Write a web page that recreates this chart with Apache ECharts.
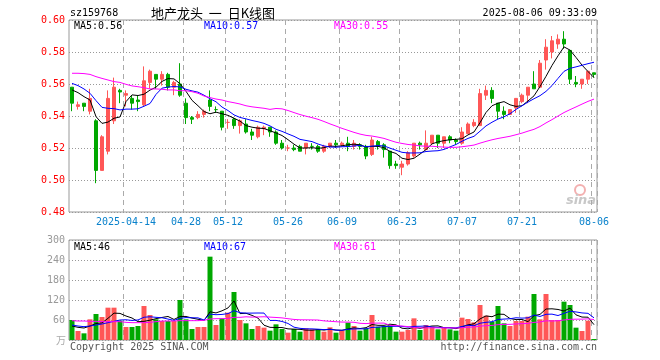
<!DOCTYPE html>
<html><head><meta charset="utf-8">
<script src="https://cdn.jsdelivr.net/npm/echarts@6/dist/echarts.min.js"></script>
<style>html,body{margin:0;padding:0;background:#fff}#c{width:660px;height:360px}</style>
</head><body><div id="c"></div>
<script>
const dates = ['2025-03-31','2025-04-01','2025-04-02','2025-04-03','2025-04-07','2025-04-08','2025-04-09','2025-04-10','2025-04-11',
'2025-04-14','2025-04-15','2025-04-16','2025-04-17','2025-04-18','2025-04-21','2025-04-22','2025-04-23','2025-04-24','2025-04-25',
'2025-04-28','2025-04-29','2025-04-30','2025-05-06','2025-05-07','2025-05-08','2025-05-09',
'2025-05-12','2025-05-13','2025-05-14','2025-05-15','2025-05-16','2025-05-19','2025-05-20','2025-05-21','2025-05-22','2025-05-23',
'2025-05-26','2025-05-27','2025-05-28','2025-05-29','2025-05-30','2025-06-03','2025-06-04','2025-06-05','2025-06-06',
'2025-06-09','2025-06-10','2025-06-11','2025-06-12','2025-06-13','2025-06-16','2025-06-17','2025-06-18','2025-06-19','2025-06-20',
'2025-06-23','2025-06-24','2025-06-25','2025-06-26','2025-06-27','2025-06-30','2025-07-01','2025-07-02','2025-07-03','2025-07-04',
'2025-07-07','2025-07-08','2025-07-09','2025-07-10','2025-07-11','2025-07-14','2025-07-15','2025-07-16','2025-07-17','2025-07-18',
'2025-07-21','2025-07-22','2025-07-23','2025-07-24','2025-07-25','2025-07-28','2025-07-29','2025-07-30','2025-07-31','2025-08-01',
'2025-08-04','2025-08-05','2025-08-06'];

const opens  = [0.558,0.546,0.548,0.543,0.537,0.506,0.518,0.537,0.556,0.553,0.551,0.550,0.547,0.561,0.566,0.563,0.566,0.558,0.560,0.548,
0.539,0.539,0.541,0.550,0.544,0.543,0.536,0.538,0.534,0.535,0.530,0.527,0.532,0.533,0.530,0.523,0.520,0.520,0.521,0.520,
0.521,0.521,0.518,0.521,0.523,0.522,0.523,0.521,0.522,0.521,0.516,0.524,0.522,0.518,0.510,0.508,0.510,0.515,0.523,0.519,
0.523,0.528,0.523,0.527,0.525,0.523,0.529,0.534,0.534,0.553,0.556,0.548,0.543,0.541,0.545,0.549,0.553,0.560,0.558,0.575,
0.580,0.585,0.588,0.581,0.561,0.560,0.563,0.567];
const closes = [0.548,0.547,0.546,0.551,0.506,0.527,0.551,0.558,0.555,0.554,0.548,0.549,0.562,0.568,0.563,0.566,0.558,0.561,0.553,0.539,
0.538,0.541,0.543,0.546,0.544,0.533,0.536,0.534,0.537,0.530,0.528,0.533,0.533,0.530,0.523,0.520,0.520,0.519,0.518,0.523,
0.521,0.518,0.521,0.523,0.522,0.523,0.521,0.523,0.521,0.515,0.525,0.521,0.519,0.509,0.509,0.510,0.517,0.523,0.522,0.523,
0.528,0.523,0.527,0.525,0.524,0.530,0.535,0.536,0.554,0.556,0.551,0.543,0.541,0.544,0.551,0.553,0.558,0.557,0.573,0.583,
0.587,0.588,0.585,0.563,0.560,0.563,0.568,0.566];
const lows   = [0.543,0.544,0.543,0.541,0.498,0.506,0.516,0.535,0.548,0.546,0.544,0.543,0.546,0.557,0.557,0.559,0.556,0.553,0.552,0.535,
0.535,0.538,0.539,0.543,0.542,0.531,0.532,0.532,0.529,0.529,0.525,0.526,0.528,0.527,0.522,0.519,0.518,0.518,0.518,0.516,
0.519,0.517,0.517,0.520,0.520,0.521,0.518,0.519,0.519,0.513,0.515,0.519,0.514,0.507,0.507,0.503,0.509,0.514,0.519,0.519,
0.522,0.520,0.520,0.523,0.522,0.522,0.529,0.533,0.534,0.550,0.548,0.538,0.538,0.541,0.542,0.548,0.548,0.557,0.558,0.569,
0.576,0.582,0.582,0.560,0.558,0.557,0.560,0.564];
const highs  = [0.558,0.549,0.548,0.557,0.538,0.528,0.556,0.564,0.557,0.556,0.553,0.553,0.571,0.569,0.566,0.568,0.567,0.562,0.573,0.551,
0.540,0.543,0.544,0.556,0.546,0.543,0.538,0.539,0.538,0.538,0.532,0.534,0.534,0.533,0.531,0.525,0.522,0.522,0.522,0.523,
0.523,0.522,0.522,0.523,0.525,0.524,0.527,0.525,0.523,0.522,0.527,0.525,0.523,0.518,0.512,0.512,0.518,0.523,0.524,0.531,
0.528,0.528,0.527,0.528,0.526,0.533,0.536,0.538,0.557,0.559,0.558,0.548,0.546,0.544,0.551,0.554,0.558,0.568,0.575,0.588,
0.590,0.591,0.593,0.581,0.565,0.563,0.568,0.567];
const volumes = [60,27,20,62,78,69,97,97,58,39,39,42,102,75,62,57,57,57,120,62,
33,39,39,250,45,65,82,144,60,50,33,42,37,28,47,33,22,33,25,35,
32,32,25,38,22,28,52,42,28,35,75,40,42,45,25,25,30,65,30,45,
40,32,38,32,28,67,63,53,105,73,55,102,50,42,57,57,70,138,62,138,
60,60,115,105,37,27,58,3];

// moving-average values at the left edge (earlier days are not shown)
const ma5Head  = [0.5563,0.5546,0.5521,0.5500];
const ma10Head = [0.5604,0.5590,0.5569,0.5542,0.5496,0.5454,0.5448,0.5446,0.5438];
const ma30Head = [0.5667,0.5667,0.5665,0.5660,0.5646,0.5635,0.5625,0.5615,0.5610,0.5598,0.5588,0.5583,0.5577,0.5569,0.5569,
0.5567,0.5563,0.5563,0.5558,0.5558,0.5552,0.5542,0.5525,0.5515,0.5506,0.5500,0.5490,0.5483,0.5475];
const vma5Head  = [42,38,36,42];
const vma10Head = [45,42,40,42,45,48,52,56,60];
const vma30Head = [58,57,57,56,56,55,55,55,55,53,52,52,52,53,55,57,57,57,58,58,58,58,59,63,64,64,65,68,68];

const labelIdx = [9,19,26,36,45,55,65,75,87];
const priceTicks = {min:0.48, max:0.60, step:0.02};
const volTicks = {min:0, max:300, step:60};

function ma(arr, n, head) {
  return arr.map((v, i) => {
    if (i < n - 1) return head[i];
    let s = 0; for (let k = i - n + 1; k <= i; k++) s += arr[k];
    return s / n;
  });
}
const ma5 = ma(closes,5,ma5Head), ma10 = ma(closes,10,ma10Head), ma30 = ma(closes,30,ma30Head);
const vma5 = ma(volumes,5,vma5Head), vma10 = ma(volumes,10,vma10Head), vma30 = ma(volumes,30,vma30Head);

const UP = '#ff5757', DOWN = '#00a800';
const MONO = "'DejaVu Sans Mono', monospace";
const kData = opens.map((o,i)=>[o, closes[i], lows[i], highs[i]]);
const volData = volumes.map((v,i)=>({value:v, itemStyle:{color: closes[i] >= opens[i] ? UP : DOWN}}));
const showIdx = (i) => labelIdx.indexOf(i) >= 0;

const chart = echarts.init(document.getElementById('c'), null, {renderer:'canvas'});
const xCommon = {
  type:'category', data:dates, boundaryGap:true,
  axisLine:{show:false}, axisTick:{show:false},
  splitLine:{show:true, interval:(i)=>showIdx(i), lineStyle:{color:'#aaa', type:[5,4], width:1}}
};
const lineS = (name, data, color, xi) => ({
  name, type:'line', data, xAxisIndex:xi, yAxisIndex:xi, showSymbol:false, symbol:'none',
  lineStyle:{color, width:1}, itemStyle:{color}, z:5, silent:true
});
chart.setOption({
  animation:false,
  backgroundColor:'#fff',
  grid:[
    {left:69, top:20, width:528, height:192, show:true, borderColor:'#999', borderWidth:1, backgroundColor:'transparent'},
    {left:69, top:240, width:528, height:100, show:true, borderColor:'#999', borderWidth:1, backgroundColor:'transparent'}
  ],
  xAxis:[
    Object.assign({}, xCommon, {gridIndex:0, axisLabel:{show:true, interval:(i)=>showIdx(i), margin:5,
      color:'#0a82cc', fontFamily:MONO, fontSize:10,
      formatter:(v, i)=> i === labelIdx[0] ? v : v.slice(5)}}),
    Object.assign({}, xCommon, {gridIndex:1, axisLabel:{show:false}})
  ],
  yAxis:[
    {gridIndex:0, min:priceTicks.min, max:priceTicks.max, interval:priceTicks.step, scale:false,
      axisLine:{show:false}, axisTick:{show:false},
      axisLabel:{color:'#ff0000', fontFamily:MONO, fontSize:10, margin:4, formatter:(v)=>v.toFixed(2)},
      splitLine:{show:true, lineStyle:{color:'#999', type:[1,2]}}},
    {gridIndex:1, min:volTicks.min, max:volTicks.max, interval:volTicks.step,
      axisLine:{show:false}, axisTick:{show:false},
      axisLabel:{color:'#999', fontFamily:MONO, fontSize:10, margin:4, formatter:(v)=> v === 0 ? '' : String(v)},
      splitLine:{show:true, lineStyle:{color:'#999', type:[1,2]}}}
  ],
  series:[
    {type:'candlestick', data:kData, xAxisIndex:0, yAxisIndex:0, barWidth:4,
      itemStyle:{color:UP, color0:DOWN, borderColor:UP, borderColor0:DOWN, borderWidth:1}, z:3},
    lineS('MA5', ma5, '#000000', 0),
    lineS('MA10', ma10, '#0000ff', 0),
    lineS('MA30', ma30, '#ff00ff', 0),
    {type:'bar', data:volData, xAxisIndex:1, yAxisIndex:1, barWidth:5, z:3},
    lineS('VMA5', vma5, '#000000', 1),
    lineS('VMA10', vma10, '#0000ff', 1),
    lineS('VMA30', vma30, '#ff00ff', 1)
  ],
  graphic:[
    {type:'text', x:70, y:13, style:{text:'sz159768', font:"10px "+MONO, fill:'#000', verticalAlign:'middle'}},
    {type:'text', x:213, y:13, style:{text:'地产龙头  一  日K线图', font:"13px 'Noto Sans CJK SC'", fill:'#000', align:'center', verticalAlign:'middle'}},
    {type:'text', x:597, y:13, style:{text:'2025-08-06 09:33:09', font:"10px "+MONO, fill:'#000', align:'right', verticalAlign:'middle'}},
    {type:'text', x:74, y:26, style:{text:'MA5:' + ma5[87].toFixed(2), font:"10px "+MONO, fill:'#000', verticalAlign:'middle'}},
    {type:'text', x:204, y:26, style:{text:'MA10:' + ma10[87].toFixed(2), font:"10px "+MONO, fill:'#0000ff', verticalAlign:'middle'}},
    {type:'text', x:334, y:26, style:{text:'MA30:' + ma30[87].toFixed(2), font:"10px "+MONO, fill:'#ff00ff', verticalAlign:'middle'}},
    {type:'text', x:74, y:247, style:{text:'MA5:' + Math.round(vma5[87]), font:"10px "+MONO, fill:'#000', verticalAlign:'middle'}},
    {type:'text', x:204, y:247, style:{text:'MA10:' + Math.round(vma10[87]), font:"10px "+MONO, fill:'#0000ff', verticalAlign:'middle'}},
    {type:'text', x:334, y:247, style:{text:'MA30:' + Math.round(vma30[87]), font:"10px "+MONO, fill:'#ff00ff', verticalAlign:'middle'}},
    {type:'text', x:66, y:340, style:{text:'万', font:"10px 'Noto Sans CJK SC'", fill:'#aaa', align:'right', verticalAlign:'middle'}},
    {type:'text', x:70, y:347, style:{text:'Copyright 2025 SINA.COM', font:"10px "+MONO, fill:'#555', verticalAlign:'middle'}},
    {type:'text', x:597, y:347, style:{text:'http://finance.sina.com.cn', font:"10px "+MONO, fill:'#555', align:'right', verticalAlign:'middle'}},
    {type:'circle', shape:{cx:580, cy:190, r:5}, style:{fill:'none', stroke:'#f3b0b0', lineWidth:2}, z:0},
    {type:'text', x:581, y:201, style:{text:'sina', font:"italic bold 13px 'DejaVu Sans'", fill:'#c8c8c8', align:'center', verticalAlign:'middle'}, z:0}
  ]
});
</script></body></html>
